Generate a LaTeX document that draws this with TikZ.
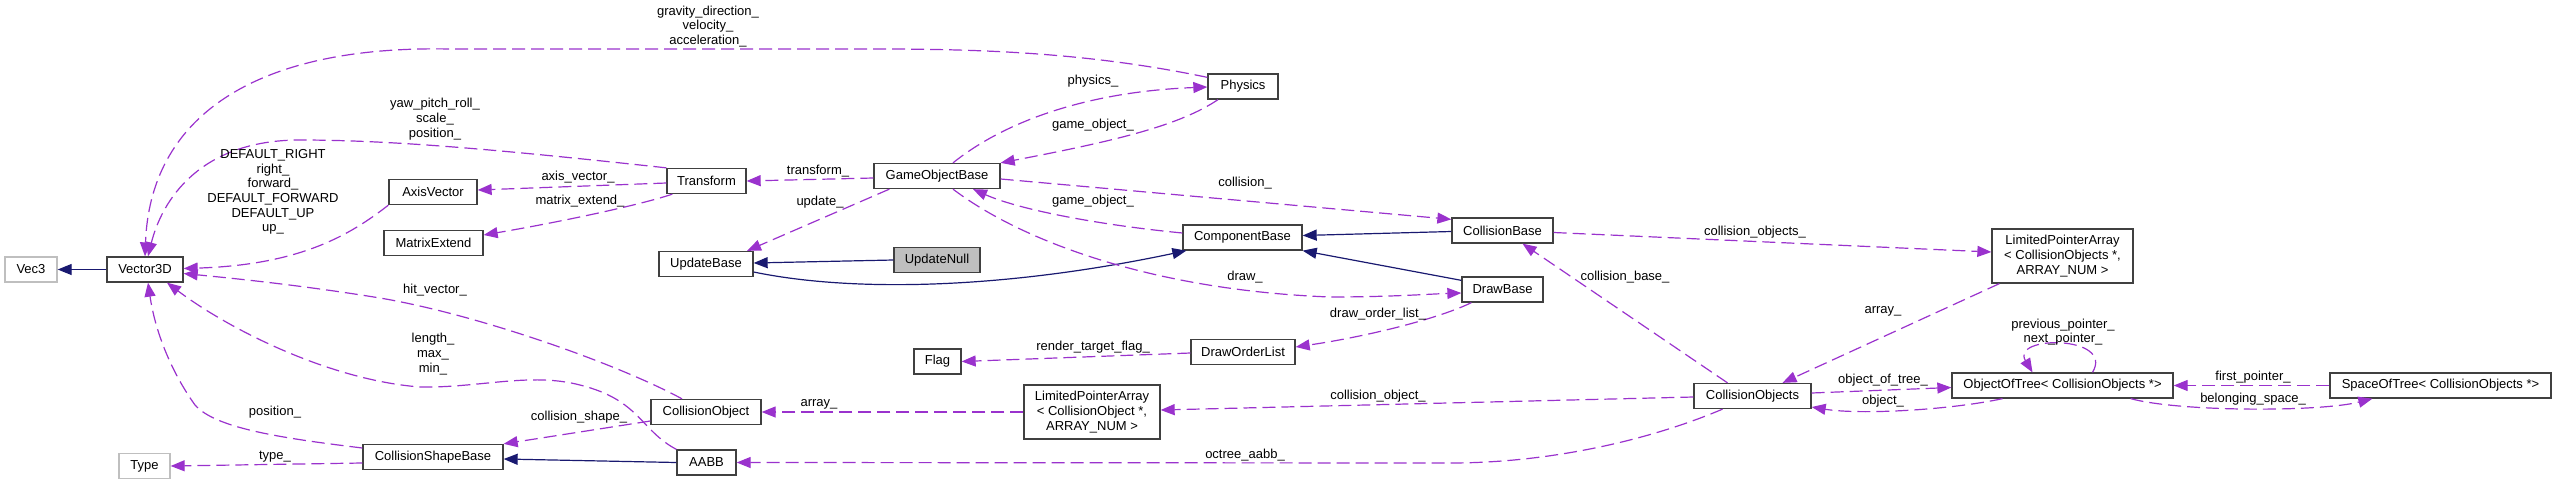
\documentclass[tikz,border=0pt]{standalone}
\usepackage{fontspec}
\setmainfont{Liberation Sans}
\usetikzlibrary{arrows.meta}
\definecolor{mUse}{HTML}{9A32CD}
\definecolor{mInh}{HTML}{191970}
\definecolor{mEdge}{HTML}{404040}
\definecolor{mGray}{HTML}{BFBFBF}

\begin{document}
\begin{tikzpicture}[x=1pt, y=-1pt,
    cls/.style={draw=mEdge, line width=1.3pt, fill=white, inner sep=0pt,
      minimum height=25pt, align=center, font=\fontsize{13}{14.7}\selectfont},
    ext/.style={cls, draw=mGray},
    lbl/.style={inner sep=0pt, align=center, font=\fontsize{13}{14.7}\selectfont},
    use/.style={draw=mUse, line width=1.2pt, dash pattern=on 13pt off 6pt,
      -{Triangle[length=14pt,width=11pt]}},
    inh/.style={draw=mInh, line width=1.2pt, -{Triangle[length=14pt,width=11pt]}}]
    \useasboundingbox (0,0) rectangle (2556,485);

    % classes
    \node[ext, minimum width=52pt] (vec3) at (31,269.5) {Vec3};
    \node[cls, minimum width=76pt] (vector3d) at (145,269.5) {Vector3D};
    \node[ext, minimum width=51pt] (type) at (144.5,466) {Type};
    \node[cls, minimum width=88pt] (axisvector) at (433,192) {AxisVector};
    \node[cls, minimum width=99pt] (matrixextend) at (433.5,243) {MatrixExtend};
    \node[cls, minimum width=140pt] (shapebase) at (433,457) {CollisionShapeBase};
    \node[cls, minimum width=79pt] (transform) at (706.5,181) {Transform};
    \node[cls, minimum width=94pt] (updatebase) at (706,264) {UpdateBase};
    \node[cls, minimum width=110pt] (collobject) at (706,412) {CollisionObject};
    \node[cls, minimum width=59pt] (aabb) at (706.5,462.5) {AABB};
    \node[cls, minimum width=126pt] (gameobject) at (937,176) {GameObjectBase};
    \node[cls, minimum width=70pt] (physics) at (1243,86.5) {Physics};
    \node[cls, fill=mGray, minimum width=86pt] (updatenull) at (937,260) {UpdateNull};
    \node[cls, minimum width=119pt] (component) at (1242.5,237.5) {ComponentBase};
    \node[cls, minimum width=47pt] (flag) at (937.5,361.5) {Flag};
    \node[cls, minimum width=104pt] (drawlist) at (1243,352) {DrawOrderList};
    \node[cls, minimum width=136pt, minimum height=54pt] (arrayobj) at (1092,412)
      {LimitedPointerArray\\< CollisionObject *,\\ ARRAY\_NUM >};
    \node[cls, minimum width=101pt] (collbase) at (1502.5,230.5) {CollisionBase};
    \node[cls, minimum width=81pt] (drawbase) at (1502.5,289.5) {DrawBase};
    \node[cls, minimum width=117pt] (collobjects) at (1752.5,396) {CollisionObjects};
    \node[cls, minimum width=141pt, minimum height=54pt] (arrayobjs) at (2062.5,256)
      {LimitedPointerArray\\< CollisionObjects *,\\ ARRAY\_NUM >};
    \node[cls, minimum width=221pt] (objtree) at (2062.5,385.5) {ObjectOfTree< CollisionObjects *>};
    \node[cls, minimum width=221pt] (spacetree) at (2440.5,385.5) {SpaceOfTree< CollisionObjects *>};

    % inheritance
    \draw[inh] (vector3d) -- (vec3);
    \draw[inh] (updatenull.west) -- ([yshift=1pt]updatebase.east);
    \draw[inh] ([yshift=-8pt]updatebase.east) .. controls (850,292) and (1000,290) .. ([xshift=4pt]component.south west);
    \draw[inh] ([yshift=-1pt]collbase.west) -- ([yshift=2pt]component.east);
    \draw[inh] ([yshift=-4pt]drawbase.north west) -- (component.south east);
    \draw[inh] (aabb.west) -- ([yshift=-2pt]shapebase.east);

    % members of Vector3D
    \draw[use] ([yshift=-4pt]physics.north west) .. controls (1100,55) and (1000,49) .. (880,49)
      -- (450,49) .. controls (250,45) and (150,120) .. (vector3d.north);
    \draw[use] (transform.north west) .. controls (520,152) and (400,140) .. (300,140)
      .. controls (200,140) and (162,200) .. ([xshift=3pt]vector3d.north);
    \draw[use] (axisvector.south west) .. controls (350,235) and (300,265) .. ([yshift=1pt]vector3d.east);
    \draw[use] ([xshift=-24pt]collobject.north) .. controls (620,365) and (480,315) .. (380,298)
      .. controls (300,285) and (230,278) .. ([yshift=-4pt]vector3d.east);
    \draw[use] (aabb.north west) .. controls (640,430) and (640,400) .. (580,385)
      .. controls (530,372) and (480,388) .. (420,387)
      .. controls (330,380) and (230,330) .. ([xshift=22pt]vector3d.south);
    \draw[use] ([yshift=9pt]shapebase.west) .. controls (280,438) and (215,428) .. (195,405)
      .. controls (170,370) and (155,330) .. ([xshift=3pt]vector3d.south);
    \draw[use] ([yshift=-6pt]shapebase.west) -- (type.east);
    \node[lbl] (lgrav) at (708,26.5) {gravity\_direction\_\\velocity\_\\acceleration\_};
    \node[lbl] (lyaw) at (435,119) {yaw\_pitch\_roll\_\\scale\_\\position\_};
    \node[lbl] (ldef) at (273,192) {DEFAULT\_RIGHT\\right\_\\forward\_\\DEFAULT\_FORWARD\\DEFAULT\_UP\\up\_};
    \node[lbl] (lhit) at (435,290) {hit\_vector\_};
    \node[lbl] (llen) at (433,354) {length\_\\max\_\\min\_};
    \node[lbl] (lpos) at (275,412) {position\_};
    \node[lbl] (ltype) at (275,457) {type\_};

    % transform and game object
    \draw[use] ([yshift=-2pt]transform.west) -- ([yshift=2pt]axisvector.east);
    \draw[use] ([xshift=6pt]transform.south west) .. controls (640,205) and (560,222) .. ([yshift=8pt]matrixextend.east);
    \draw[use] ([yshift=-2pt]gameobject.west) -- (transform.east);
    \draw[use] ([xshift=16pt]gameobject.south west) -- ([xshift=41pt]updatebase.north);
    \draw[use] ([xshift=16pt]gameobject.north) .. controls (1000,125) and (1080,92) .. ([yshift=-0.5pt]physics.west);
    \draw[use] ([xshift=-25pt]physics.south) .. controls (1180,125) and (1120,140) .. (gameobject.north east);
    \draw[use] ([yshift=-3pt]gameobject.east) -- ([yshift=-2pt]collbase.north west);
    \draw[use] ([yshift=4.5pt]component.west) .. controls (1100,225) and (1020,210) .. ([xshift=36pt]gameobject.south);
    \draw[use] ([xshift=16pt]gameobject.south) .. controls (1020,240) and (1150,290) .. (1330,297)
      .. controls (1390,297) and (1430,294) .. ([yshift=-3.5pt]drawbase.west);
    \node[lbl] (laxis) at (578,177) {axis\_vector\_};
    \node[lbl] (lmat) at (580,201) {matrix\_extend\_};
    \node[lbl] (ltrans) at (818,171) {transform\_};
    \node[lbl] (lupd) at (820,202) {update\_};
    \node[lbl] (lphys) at (1093,81) {physics\_};
    \node[lbl] (lgo1) at (1093,125) {game\_object\_};
    \node[lbl] (lcoll) at (1245,183) {collision\_};
    \node[lbl] (lgo2) at (1093,201) {game\_object\_};
    \node[lbl] (ldraw) at (1245,277) {draw\_};

    % drawing
    \draw[use] ([xshift=10pt]drawbase.south west) .. controls (1440,318) and (1370,336) .. ([yshift=5pt]drawlist.east);
    \draw[use] ([yshift=-1pt]drawlist.west) -- (flag.east);
    \node[lbl] (ldol) at (1378,314) {draw\_order\_list\_};
    \node[lbl] (lflag) at (1093,347) {render\_target\_flag\_};

    % collision
    \draw[use] ([yshift=-2pt]collbase.east) -- ([yshift=4pt]arrayobjs.west);
    \draw[use] ([xshift=8pt]arrayobjs.south west) -- ([xshift=30pt]collobjects.north);
    \draw[use] ([xshift=-25pt]collobjects.north) -- ([xshift=20pt]collbase.south);
    \draw[use] ([yshift=-1pt]collobjects.west) -- ([yshift=2pt]arrayobj.east);
    \draw[use] (arrayobj.west) -- (collobject.east);
    \draw[use] ([yshift=-9pt]collobject.west) -- (shapebase.north east);
    \draw[use] ([xshift=-30pt]collobjects.south) .. controls (1650,440) and (1550,463) .. (1450,463) -- (aabb.east);
    \node[lbl] (lcobjs) at (1755,232) {collision\_objects\_};
    \node[lbl] (larr1) at (1883,311) {array\_};
    \node[lbl] (lcbase) at (1625,277) {collision\_base\_};
    \node[lbl] (lcobj) at (1378,396) {collision\_object\_};
    \node[lbl] (larr2) at (819,404) {array\_};
    \node[lbl] (lshape) at (579,417) {collision\_shape\_};
    \node[lbl] (loct) at (1245,455) {octree\_aabb\_};

    % tree
    \draw[use] ([yshift=3pt]collobjects.east) -- ([yshift=-2pt]objtree.west);
    \draw[use] ([xshift=-60pt]objtree.south) .. controls (1950,410) and (1860,415) .. ([yshift=-11pt]collobjects.east);
    \draw[use] ([xshift=30pt]objtree.north) .. controls (2115,335) and (2010,335) .. ([xshift=-30pt]objtree.north);
    \draw[use] (spacetree.west) -- (objtree.east);
    \draw[use] ([xshift=-43pt]objtree.south east) .. controls (2180,412) and (2320,412) .. ([xshift=43pt]spacetree.south west);
    \node[lbl] (lofT) at (1883,380) {object\_of\_tree\_};
    \node[lbl] (lobj) at (1883,401) {object\_};
    \node[lbl] (lptr) at (2063,332) {previous\_pointer\_\\next\_pointer\_};
    \node[lbl] (lfirst) at (2253,377) {first\_pointer\_};
    \node[lbl] (lspace) at (2253,399) {belonging\_space\_};
\end{tikzpicture}
\end{document}
